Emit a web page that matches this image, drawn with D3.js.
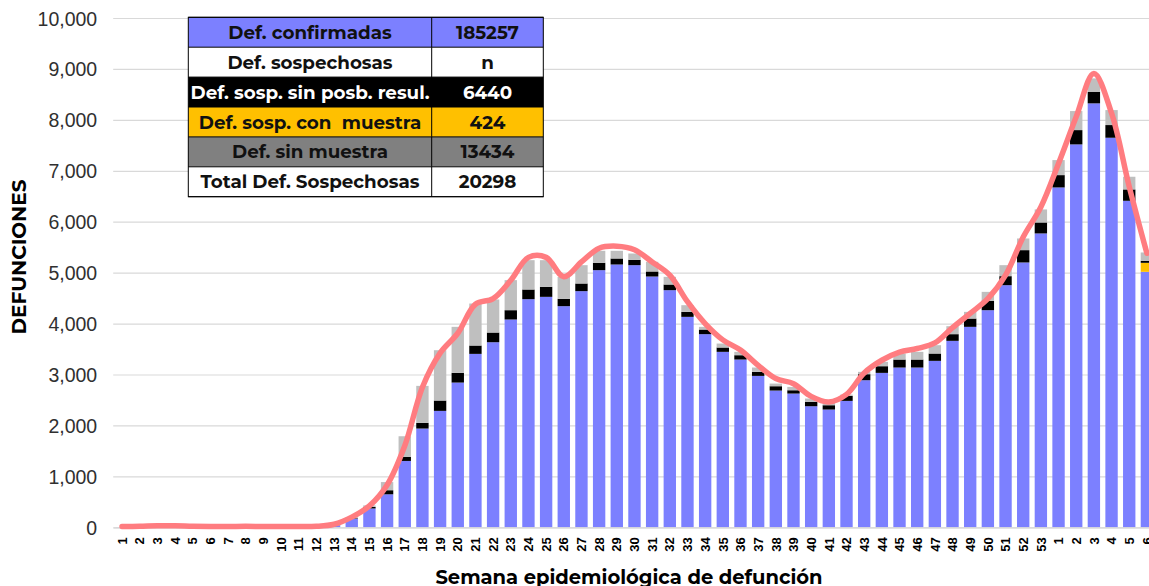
<!DOCTYPE html>
<html>
<head>
<meta charset="utf-8">
<script src="https://cdn.jsdelivr.net/npm/d3@7"></script>
<style>
    body { margin: 0; background: #fff; }
    svg { display: block; font-family: Montserrat, "DejaVu Sans", sans-serif; }
    .grid line { stroke: #d9d9d9; stroke-width: 1.2; }
    .grid text { fill: #303030; font-size: 19.5px; }
    .x.axis text { font-size: 13px; font-weight: bold; fill: #000; }
    .cell text { font-size: 18.3px; font-weight: bold; white-space: pre; }
</style>
</head>
<body>
<script>

// week labels (epidemiological week of death)
var weekLabels = [1, 2, 3, 4, 5, 6, 7, 8, 9, 10, 11, 12, 13, 14, 15, 16, 17, 18, 19, 20,
    21, 22, 23, 24, 25, 26, 27, 28, 29, 30, 31, 32, 33, 34, 35, 36, 37, 38, 39, 40,
    41, 42, 43, 44, 45, 46, 47, 48, 49, 50, 51, 52, 53, 1, 2, 3, 4, 5, 6];

// confirmed deaths (blue)
var confirmadas = [2, 3, 5, 4, 3, 2, 2, 3, 2, 2, 3, 5, 40, 170, 370, 648, 1303, 1939, 2286, 2842,
    3405, 3634, 4080, 4479, 4525, 4342, 4637, 5049, 5160, 5147, 4924, 4656, 4132, 3792, 3445, 3294, 2973, 2685, 2626, 2377,
    2312, 2482, 2888, 3032, 3137, 3137, 3268, 3661, 3936, 4263, 4754, 5200, 5770, 6673, 7518, 8324, 7649, 6411, 5016];

// suspected, sample taken (yellow)
var conMuestra = [0, 0, 0, 0, 0, 0, 0, 0, 0, 0, 0, 0, 0, 0, 0, 0, 0, 0, 0, 0,
    0, 0, 0, 0, 0, 0, 0, 0, 0, 0, 0, 0, 0, 0, 0, 0, 0, 0, 0, 0,
    0, 0, 0, 0, 0, 0, 0, 0, 0, 0, 0, 0, 0, 0, 0, 0, 0, 0, 177];

// suspected, no possible result (black)
var sinPosbResul = [0, 0, 0, 0, 0, 0, 0, 0, 0, 0, 0, 0, 2, 10, 30, 80, 78, 111, 203, 190,
    164, 190, 183, 190, 197, 144, 150, 144, 118, 105, 99, 111, 98, 91, 85, 85, 79, 85, 65, 85,
    85, 98, 118, 131, 157, 157, 144, 131, 163, 184, 177, 242, 215, 242, 281, 228, 249, 223, 39];

// no sample (gray)
var sinMuestra = [0, 0, 0, 0, 0, 0, 0, 0, 0, 0, 0, 0, 3, 20, 30, 160, 407, 727, 988, 904,
    825, 649, 590, 576, 523, 432, 360, 236, 151, 124, 190, 151, 131, 53, 78, 66, 85, 52, 66, 66,
    65, 26, 46, 85, 118, 151, 164, 157, 131, 176, 216, 229, 256, 295, 374, 262, 294, 249, 164];

// smoothed total line
var lineaTotal = [15, 20, 30, 30, 20, 15, 15, 20, 15, 15, 15, 20, 60, 200, 420, 830, 1600, 2750, 3420, 3810,
    4380, 4490, 4850, 5300, 5300, 4920, 5210, 5480, 5520, 5450, 5210, 4950, 4430, 4000, 3680, 3480, 3180, 2920, 2820, 2570,
    2460, 2610, 3030, 3280, 3440, 3510, 3620, 3920, 4200, 4490, 4950, 5700, 6290, 7145, 8060, 8910, 8130, 6690, 5380];

var yTicks = [0, 1000, 2000, 3000, 4000, 5000, 6000, 7000, 8000, 9000, 10000];

// summary table
var tableLabels = ["Def. confirmadas", "Def. sospechosas", "Def. sosp. sin posb. resul.",
    "Def. sosp. con  muestra", "Def. sin muestra", "Total Def. Sospechosas"];
var tableValues = ["185257", "n", "6440", "424", "13434", "20298"];

drawChart();

function drawChart() {

    var W = 1149, H = 586;
    var margin = {top: 18, left: 113.2, bottom: 527.3};

    var svg = d3.select("body").append("svg")
        .attr("width", W)
        .attr("height", H);

    var idx = weekLabels.map(function(d, i) { return i; });

    var x = d3.scaleBand()
        .domain(idx)
        .range([margin.left, margin.left + 59 * 17.67])
        .paddingInner(0.3)
        .paddingOuter(0.15);

    var y = d3.scaleLinear()
        .domain([0, 10000])
        .range([margin.bottom, margin.top]);

    // gridlines + y labels
    var grid = svg.append("g")
        .attr("class", "grid")
        .attr("transform", "translate(" + margin.left + ",0)")
        .call(d3.axisLeft(y).tickValues(yTicks).tickSize(-(W - margin.left)).tickPadding(16).tickFormat(d3.format(",")));
    grid.select(".domain").remove();
    grid.selectAll("text").attr("dy", "0.36em");

    // stacked bars: blue, yellow, black, gray
    var rows = idx.map(function(i) {
        return { i: i, conf: confirmadas[i], muestra: conMuestra[i], sinres: sinPosbResul[i], sinm: sinMuestra[i] };
    });
    var keys = ["conf", "muestra", "sinres", "sinm"];
    var color = d3.scaleOrdinal().domain(keys).range(["#7c80ff", "#ffc000", "#000000", "#bfbfbf"]);

    var series = d3.stack().keys(keys)(rows);

    svg.append("g").selectAll("g")
        .data(series)
        .enter().append("g")
        .attr("fill", function(d) { return color(d.key); })
        .selectAll("rect")
        .data(function(d) { return d; })
        .enter().append("rect")
        .attr("x", function(d) { return x(d.data.i); })
        .attr("width", x.bandwidth())
        .attr("y", function(d) { return y(d[1]); })
        .attr("height", function(d) { return y(d[0]) - y(d[1]); });

    // x axis
    var xAxis = svg.append("g")
        .attr("class", "x axis")
        .attr("transform", "translate(0," + margin.bottom + ")")
        .call(d3.axisBottom(x).tickSize(0).tickFormat(function(i) { return weekLabels[i]; }));
    xAxis.select(".domain").attr("stroke", "#d9d9d9").attr("stroke-width", 1.2);
    xAxis.selectAll("text")
        .attr("transform", "rotate(-90)")
        .attr("x", -10)
        .attr("y", 0)
        .attr("dy", "0.36em")
        .style("text-anchor", "end");

    // smoothed line
    var line = d3.line()
        .x(function(d, i) { return x(i) + x.bandwidth() / 2; })
        .y(function(d) { return y(d); })
        .curve(d3.curveCatmullRom);

    svg.append("path")
        .datum(lineaTotal)
        .attr("fill", "none")
        .attr("stroke", "#ff7c80")
        .attr("stroke-width", 5.5)
        .attr("stroke-linecap", "round")
        .attr("d", line);

    // axis titles
    svg.append("text")
        .attr("transform", "translate(26,257) rotate(-90)")
        .attr("text-anchor", "middle")
        .style("font-size", "20px")
        .style("font-weight", "bold")
        .text("DEFUNCIONES");

    svg.append("text")
        .attr("x", 629)
        .attr("y", 584)
        .attr("text-anchor", "middle")
        .style("font-size", "19.5px")
        .style("font-weight", "bold")
        .text("Semana epidemiológica de defunción");

    // table
    var rowFill = ["#7c80ff", "#ffffff", "#000000", "#ffc000", "#808080", "#ffffff"];
    var rowText = ["#111", "#111", "#fff", "#111", "#111", "#111"];
    var tx0 = 188.3, tx1 = 431.7, tx2 = 543.3, rowH = 29.9, ty0 = 17.3;

    var cell = svg.append("g").attr("class", "cell")
        .selectAll("g")
        .data(tableLabels)
        .enter().append("g")
        .attr("transform", function(d, i) { return "translate(0," + (ty0 + i * rowH) + ")"; });

    cell.append("rect")
        .attr("x", tx0).attr("width", tx2 - tx0)
        .attr("height", rowH)
        .attr("fill", function(d, i) { return rowFill[i]; });

    cell.append("line")
        .attr("x1", tx1).attr("x2", tx1)
        .attr("y1", 0).attr("y2", rowH)
        .attr("stroke", "#000");

    cell.append("text")
        .attr("x", (tx0 + tx1) / 2)
        .attr("y", rowH / 2)
        .attr("dy", "0.36em")
        .attr("text-anchor", "middle")
        .attr("fill", function(d, i) { return rowText[i]; })
        .text(function(d) { return d; });

    cell.append("text")
        .attr("x", (tx1 + tx2) / 2)
        .attr("y", rowH / 2)
        .attr("dy", "0.36em")
        .attr("text-anchor", "middle")
        .attr("fill", function(d, i) { return rowText[i]; })
        .text(function(d, i) { return tableValues[i]; });

    // row borders
    svg.append("g").selectAll("line")
        .data(d3.range(tableLabels.length + 1))
        .enter().append("line")
        .attr("x1", tx0).attr("x2", tx2)
        .attr("y1", function(d) { return ty0 + d * rowH; })
        .attr("y2", function(d) { return ty0 + d * rowH; })
        .attr("stroke", "#000");

    svg.append("rect")
        .attr("x", tx0).attr("y", ty0)
        .attr("width", tx2 - tx0).attr("height", rowH * tableLabels.length)
        .attr("fill", "none")
        .attr("stroke", "#000");
}

</script>
</body>
</html>
